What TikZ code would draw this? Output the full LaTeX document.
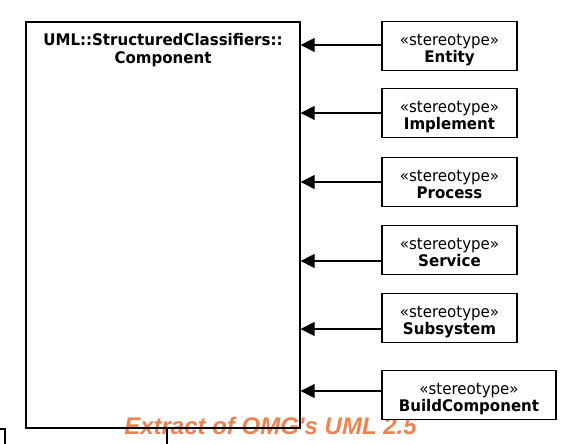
\documentclass[tikz,border=0pt]{standalone}
\usepackage{fontspec}
\setmainfont{DejaVu Sans}[FakeStretch=0.94]
\newfontfamily\wmfont{Liberation Sans}
\usetikzlibrary{arrows.meta}
\definecolor{wmorange}{RGB}{235,131,82}
\newcommand\sterlabel[1]{\parbox[t]{170pt}{\centering «stereotype»\\\textbf{#1}}}
\begin{document}
\begin{tikzpicture}[x=1pt,y=-1pt,
  lw/.style={line width=1.3pt},
  stbox/.style={lw, draw=black, fill=white, minimum width=135pt, minimum height=49pt, inner sep=0pt},
  sttext/.style={anchor=base, inner sep=0pt, font=\fontsize{16}{17}\selectfont},
  arr/.style={lw, -{Triangle[length=14pt,width=14pt]}},
  wmtext/.style={text=wmorange, font=\wmfont\bfseries\itshape\fontsize{24}{26}\selectfont, inner sep=0pt}]
\fill[white] (0,0) rectangle (578,444);
\useasboundingbox (0,0) rectangle (578,444);
% watermark
\node[wmtext, anchor=base] (wm) at (270.5,434) {Extract of OMG's UML 2.5};
% main class
\node[lw, draw=black, minimum width=274pt, minimum height=406pt, inner sep=0pt] (comp) at (163,225) {};
\node[anchor=base, inner sep=0pt, font=\fontsize{16}{17.5}\selectfont\bfseries] (comptitle) at (163,45.5)
  {\parbox[t]{270pt}{\centering UML::StructuredClassifiers::\\Component}};
% stereotypes
\node[stbox] (ent) at (449.5,46) {};
\node[stbox] (impl) at (449.5,113) {};
\node[stbox] (proc) at (449.5,182) {};
\node[stbox] (serv) at (449.5,250) {};
\node[stbox] (subs) at (449.5,318) {};
\node[stbox, minimum width=174pt] (build) at (469,395) {};
\node[sttext] (entT) at ([yshift=-24.5pt]ent.north) {\sterlabel{Entity}};
\node[sttext] (implT) at ([yshift=-24.5pt]impl.north) {\sterlabel{Implement}};
\node[sttext] (procT) at ([yshift=-24.5pt]proc.north) {\sterlabel{Process}};
\node[sttext] (servT) at ([yshift=-24.5pt]serv.north) {\sterlabel{Service}};
\node[sttext] (subsT) at ([yshift=-24.5pt]subs.north) {\sterlabel{Subsystem}};
\node[sttext] (buildT) at ([yshift=-24.5pt]build.north) {\sterlabel{BuildComponent}};
% arrows
\draw[arr] ([yshift=1pt]ent.west) -- ([yshift=1pt]ent.west -| comp.east);
\draw[arr] (impl.west) -- (impl.west -| comp.east);
\draw[arr] (proc.west) -- (proc.west -| comp.east);
\draw[arr] ([yshift=-11pt]serv.west) -- ([yshift=-11pt]serv.west -| comp.east);
\draw[arr] ([yshift=-11pt]subs.west) -- ([yshift=-11pt]subs.west -| comp.east);
\draw[arr] ([yshift=4pt]build.west) -- ([yshift=4pt]build.west -| comp.east);
% cut-off fragments at the bottom
\coordinate (fragA) at (0,429);
\coordinate (fragB) at (5,429);
\coordinate (fragC) at (5,444);
\draw[lw] (fragA) -- (fragB) -- (fragC);
\coordinate (cdown) at (167,444);
\draw[lw] (comp.south -| cdown) -- (cdown);
\end{tikzpicture}
\end{document}
